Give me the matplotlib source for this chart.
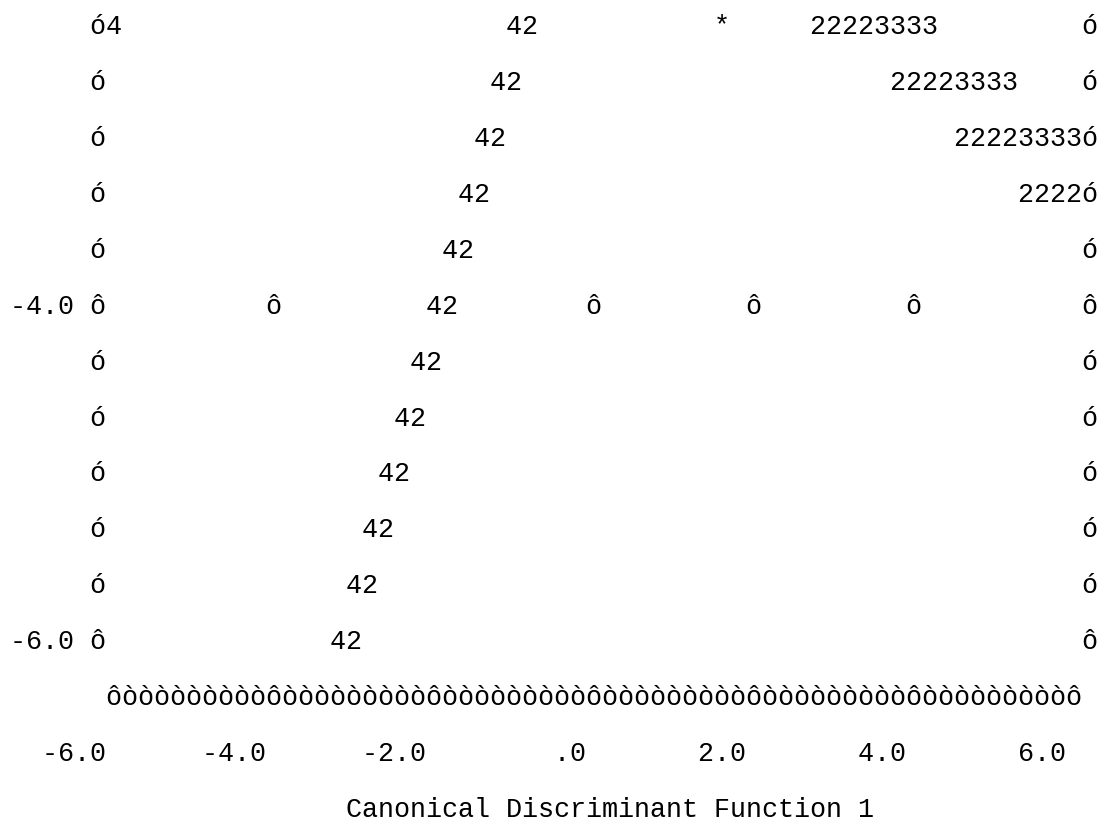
import matplotlib
matplotlib.use("Agg")
import matplotlib.pyplot as plt

# territorial map, printed as text (columns / rows of a monospace grid)
n_cols = 68
n_rows = 15

# axis ticks along the bottom
tick_values = [-6.0, -4.0, -2.0, 0.0, 2.0, 4.0, 6.0]
tick_cols = [6, 16, 26, 36, 46, 56, 66]

# y labels on the left border
ylabel_rows = [5, 11]
ylabel_text = ["-4.0", "-6.0"]

# interior tick marks on the -4.0 row
inner_tick_cols = [16, 36, 46, 56]

# boundary between groups 4 and 2 (one row each, top to bottom)
b42_cols = [31, 30, 29, 28, 27, 26, 25, 24, 23, 22, 21, 20]

# boundary between groups 2 and 3 (top rows only)
b23_rows = [0, 1, 2, 3]
b23_cols = [50, 55, 59, 63]
b23_text = ["22223333", "22223333", "22223333", "2222"]

# group centroid and region label
centroid_row, centroid_col = 0, 44
region_row, region_col, region_text = 0, 6, "4"

xlabel = "Canonical Discriminant Function 1"
xlabel_col = 21

left_col, right_col = 5, 67
map_rows = 12


def fmt(v):
    s = "%.1f" % v
    if s.startswith("0."):
        s = s[1:]
    return s


def put(grid, r, c, s):
    for i, ch in enumerate(s):
        if 0 <= c + i < n_cols:
            grid[r][c + i] = ch


grid = [[" "] * n_cols for _ in range(n_rows)]

# map body
for r in range(map_rows):
    border = "ó"
    if r in ylabel_rows:
        border = "ô"
        put(grid, r, 0, ylabel_text[ylabel_rows.index(r)])
    put(grid, r, left_col, border)
    put(grid, r, right_col, border)
    if r == 5:
        for c in inner_tick_cols:
            put(grid, r, c, "ô")
    put(grid, r, b42_cols[r], "42")

for r, c, s in zip(b23_rows, b23_cols, b23_text):
    put(grid, r, c, s)

put(grid, region_row, region_col, region_text)
put(grid, centroid_row, centroid_col, "*")

# bottom axis
for c in range(tick_cols[0], tick_cols[-1] + 1):
    put(grid, map_rows, c, "ô" if c in tick_cols else "ò")
for v, c in zip(tick_values, tick_cols):
    lab = fmt(v)
    put(grid, map_rows + 1, c - len(lab), lab)
put(grid, map_rows + 2, xlabel_col, xlabel)

# figure: one column = 16.07 px, one row = 55.93 px
W, H, dpi = 1108, 838, 100
cw, rh = 16.07, 55.93
x0, y0 = 10.0, 34.0

fig = plt.figure(figsize=(W / dpi, H / dpi), dpi=dpi)
ax = fig.add_axes([0, 0, 1, 1])
ax.set_xlim(-x0 / cw, (W - x0) / cw)
ax.set_ylim((H - y0) / rh, -y0 / rh)
ax.axis("off")

fsize = cw / 0.6 * 72 / dpi
for r in range(n_rows):
    line = "".join(grid[r]).rstrip()
    if not line:
        continue
    ax.text(0, r, line, ha="left", va="baseline", fontsize=fsize,
            family=["Liberation Mono", "DejaVu Sans Mono"], color="#000000")

fig.savefig("out.png", dpi=dpi, facecolor="white")
